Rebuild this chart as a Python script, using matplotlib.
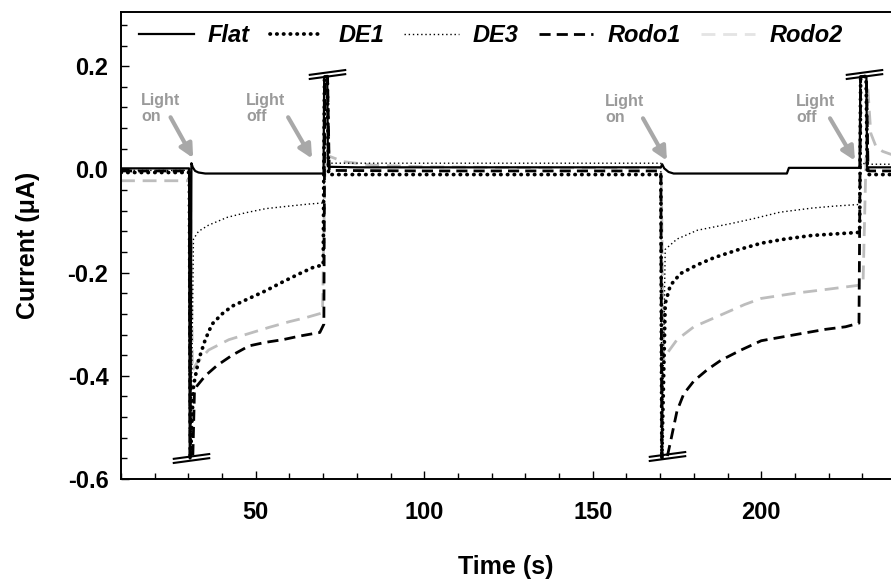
import numpy as np
import matplotlib
matplotlib.use("Agg")
import matplotlib.pyplot as plt
from matplotlib.path import Path
from matplotlib.lines import Line2D

plt.rcParams["font.family"] = ["Liberation Sans", "DejaVu Sans"]
plt.rcParams["font.weight"] = "bold"

# photocurrent traces (time in s, current in uA)
flat_t = [10, 30.2, 30.4, 30.6, 30.9, 31.3, 32, 33, 35, 45, 60, 70.1, 70.3, 71.2, 71.4, 72, 80, 100, 130, 160,
          170.2, 170.6, 171.2, 172.5, 174, 185, 200, 207.6, 208.2, 215, 225, 229.2, 229.4, 231.2, 231.4, 232, 239]
flat_i = [0.002, 0.002, -0.56, -0.56, 0.012, 0.004, -0.003, -0.006, -0.008, -0.008, -0.008, -0.008, 0.18, 0.18, 0.006,
          0.005, 0.004, 0.004, 0.004, 0.004, 0.004, 0.01, 0.002, -0.005, -0.008, -0.008, -0.008, -0.008, 0.003,
          0.003, 0.003, 0.003, 0.18, 0.18, 0.004, 0.004, 0.004]

de1_t = [10, 30.3, 30.6, 31.5, 33, 35, 37, 40, 43, 48, 53, 58, 63, 67, 70.0, 70.4, 71.2, 71.6, 90, 120, 150, 170.2,
         170.5, 171.5, 173, 176, 181, 186, 193, 200, 207, 215, 222, 229.2, 229.5, 231.1, 231.5, 239]
de1_i = [-0.006, -0.006, -0.56, -0.42, -0.37, -0.33, -0.30, -0.28, -0.265, -0.25, -0.235, -0.218, -0.202, -0.19,
         -0.185, 0.18, 0.18, -0.01, -0.01, -0.01, -0.01, -0.01, -0.56, -0.26, -0.225, -0.202, -0.185, -0.171,
         -0.156, -0.143, -0.135, -0.128, -0.125, -0.122, 0.18, 0.18, -0.01, -0.01]

de3_t = [10, 30.4, 30.7, 31.5, 33, 36, 41.5, 47, 53, 60, 66, 70.0, 70.5, 72, 100, 130, 170.2, 170.5, 171.5, 175,
         181, 191, 198, 205.5, 215, 222, 229.0, 229.6, 232, 239]
de3_i = [-0.002, -0.002, -0.56, -0.135, -0.12, -0.108, -0.093, -0.084, -0.076, -0.071, -0.067, -0.065, 0.015,
         0.012, 0.012, 0.012, 0.012, -0.56, -0.155, -0.135, -0.118, -0.105, -0.095, -0.083, -0.075, -0.071,
         -0.068, 0.012, 0.01, 0.01]

rodo1_t = [10, 30.3, 30.5, 31.3, 31.8, 32.5, 35, 38.5, 43, 48, 53, 58, 63, 69, 70.2, 70.5, 71.3, 71.8, 100, 140,
           170.2, 170.5, 172, 173, 175, 177, 180, 184, 188, 194, 200, 206, 212, 219, 225, 229.0, 229.5, 231.2,
           231.7, 239]
rodo1_i = [-0.003, -0.003, -0.56, -0.56, -0.43, -0.42, -0.40, -0.38, -0.36, -0.342, -0.335, -0.33, -0.323,
           -0.316, -0.30, 0.18, 0.18, -0.002, -0.003, -0.003, -0.003, -0.56, -0.56, -0.53, -0.468, -0.435, -0.41,
           -0.388, -0.37, -0.35, -0.332, -0.325, -0.318, -0.31, -0.305, -0.298, 0.18, 0.18, -0.003, -0.003]

rodo2_t = [10, 30.6, 31.2, 32.5, 36, 42, 48, 54, 60, 65, 69.8, 70.6, 72, 76, 85, 100, 140, 170.3, 171.0, 172, 175,
           180, 187.7, 195, 200, 210, 220, 228.4, 230.2, 231.6, 232.5, 234, 236, 239]
rodo2_i = [-0.022, -0.022, -0.39, -0.375, -0.35, -0.33, -0.318, -0.306, -0.295, -0.287, -0.278, 0.03, 0.025,
           0.015, 0.008, 0.005, 0.003, 0.003, -0.37, -0.357, -0.33, -0.305, -0.283, -0.262, -0.25, -0.24, -0.232,
           -0.225, -0.222, 0.16, 0.07, 0.045, 0.035, 0.028]

# axis-break symbols on the clipped switching spikes
break_top_t = [71.0, 230.6]
break_top_i = [0.185, 0.185]
break_bot_t = [30.8, 172.0]
break_bot_i = [-0.56, -0.555]

# light on / light off labels: (text x, text y, arrow tail, arrow head)
light_labels = ["Light\non", "Light\noff", "Light\non", "Light\noff"]
light_text_xy = [(16.0, 0.148), (47.2, 0.148), (153.7, 0.146), (210.4, 0.146)]
light_arrow_tip = [(31.4, 0.022), (66.7, 0.021), (172.0, 0.017), (227.8, 0.017)]
light_arrow_tail = [(24.7, 0.101), (59.6, 0.101), (164.9, 0.099), (220.4, 0.099)]

fig = plt.figure(figsize=(8.91, 5.8), dpi=100)
ax = fig.add_axes([0.1358, 0.1741, 0.8642, 0.8052])

ax.plot(rodo2_t, rodo2_i, color="#bdbdbd", lw=2.0, linestyle=(0, (5, 2.8)), zorder=2)
ax.plot(flat_t, flat_i, color="black", lw=1.6, zorder=4)
ax.plot(de1_t, de1_i, color="black", lw=2.7, linestyle=(0, (0.1, 1.7)), dash_capstyle="round", zorder=4)
ax.plot(de3_t, de3_i, color="black", lw=1.0, linestyle=(0, (1, 2)), zorder=4)
ax.plot(rodo1_t, rodo1_i, color="black", lw=2.0, linestyle=(0, (4, 2.2)), zorder=3)

brk = Path([(-1, -0.245), (1, 0.025), (-1, -0.025), (1, 0.245)],
           [Path.MOVETO, Path.LINETO, Path.MOVETO, Path.LINETO])
for bt, bi in [(break_top_t, break_top_i), (break_bot_t, break_bot_i)]:
    ax.plot(bt, bi, linestyle="none", marker=brk, markersize=27, markerfacecolor="none",
            markeredgecolor="black", markeredgewidth=1.5, zorder=6)

for lab, txy, tail, tip in zip(light_labels, light_text_xy, light_arrow_tail, light_arrow_tip):
    ax.text(txy[0], txy[1], lab, color="#9a9a9a", fontsize=11.5, fontweight="bold", va="top", ha="left",
            linespacing=1.1)
    ax.annotate("", xy=tip, xytext=tail,
                arrowprops=dict(arrowstyle="-|>", color="#a8a8a8", lw=3.0, mutation_scale=20,
                                shrinkA=0, shrinkB=0))

ax.set_xlim(10, 238.5)
ax.set_ylim(-0.6, 0.305)
ax.set_xticks([50, 100, 150, 200])
ax.set_xticks(np.arange(10, 240, 10), minor=True)
ax.set_yticks([-0.6, -0.4, -0.2, 0.0, 0.2])
ax.set_yticks(np.arange(-0.56, 0.30, 0.04), minor=True)
ax.set_yticklabels(["-0.6", "-0.4", "-0.2", "0.0", "0.2"])
ax.tick_params(which="both", direction="in", width=1.0, labelsize=17, top=False, right=False)
ax.tick_params(which="major", length=6)
ax.tick_params(which="minor", length=4)
ax.tick_params(axis="x", pad=16)
ax.tick_params(axis="y", pad=9)
for s in ["left", "bottom", "top"]:
    ax.spines[s].set_linewidth(1.4)
ax.spines["right"].set_visible(False)

ax.set_xlabel("Time (s)", fontsize=18, fontweight="bold", labelpad=22)
ax.set_ylabel("Current (\u03bcA)", fontsize=18, fontweight="bold", labelpad=20)

handles = [
    Line2D([], [], color="black", lw=1.6),
    Line2D([], [], color="black", lw=2.7, linestyle=(0, (0.1, 1.7)), dash_capstyle="round"),
    Line2D([], [], color="black", lw=1.0, linestyle=(0, (1, 2))),
    Line2D([], [], color="black", lw=2.0, linestyle=(0, (4, 2.2))),
    Line2D([], [], color="#e4e4e4", lw=2.0, linestyle=(0, (5, 2.8))),
]
names = ["Flat", "DE1", "DE3", "Rodo1", "Rodo2"]
ax.legend(handles, names, loc="center left", bbox_to_anchor=(0.024, 0.95), ncol=5, frameon=False,
          prop=dict(family="Liberation Sans", weight="bold", style="italic", size=17),
          handlelength=2.3, handletextpad=0.6, columnspacing=0.85, borderpad=0, borderaxespad=0)

fig.savefig("out.png", dpi=100)
